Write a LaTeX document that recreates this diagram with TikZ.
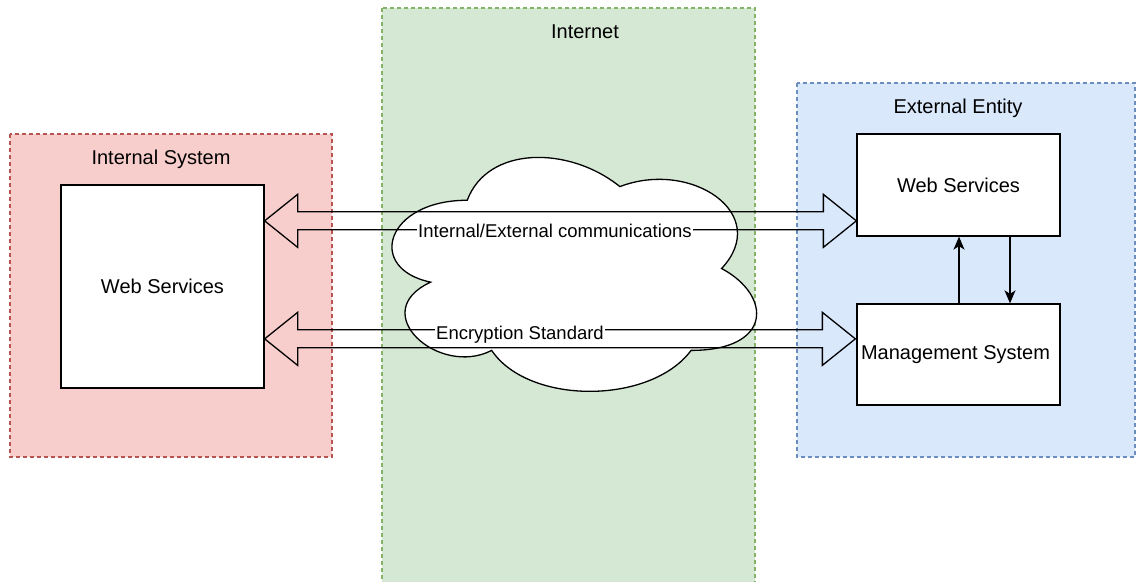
\documentclass[tikz,border=0pt]{standalone}
\usepackage{fontspec}
\setmainfont{Liberation Sans}
\usetikzlibrary{calc,arrows.meta}
\definecolor{redfill}{HTML}{F8CECC}
\definecolor{redline}{HTML}{B85450}
\definecolor{greenfill}{HTML}{D5E8D4}
\definecolor{greenline}{HTML}{82B366}
\definecolor{bluefill}{HTML}{DAE8FC}
\definecolor{blueline}{HTML}{6C8EBF}
\tikzset{
  lbl/.style={font=\fontsize{20bp}{24bp}\selectfont, inner sep=0pt},
  elbl/.style={font=\fontsize{18.5bp}{22bp}\selectfont, fill=white, inner sep=1bp},
  region/.style={line width=1.2bp, dash pattern=on 4bp off 3bp},
  box/.style={draw=black, fill=white, line width=1.3bp, inner sep=0pt,
    font=\fontsize{20bp}{24bp}\selectfont},
  flex/.style={draw=black, line width=1.3bp, line join=miter},
  sarrow/.style={draw=black, line width=1.3bp, -{Stealth[length=13bp,width=11bp,inset=3.5bp]}}
}
\newcommand\flexarrow[2]{%
  \draw[flex] (#1) -- ($(#1)+(33,-26.5)$) -- ($(#1)+(33,-9)$) -- ($(#2)+(-33,-9)$)
    -- ($(#2)+(-33,-26.5)$) -- (#2) -- ($(#2)+(-33,26.5)$) -- ($(#2)+(-33,9)$)
    -- ($(#1)+(33,9)$) -- ($(#1)+(33,26.5)$) -- cycle;}
\begin{document}
\begin{tikzpicture}[x=1bp,y=-1bp]
\useasboundingbox (0,0) rectangle (1139,582);
\clip (0,0) rectangle (1139,582);
\fill[white] (0,0) rectangle (1139,582);
% regions
\draw[region, draw=redline, fill=redfill] (10,134) rectangle (332,457);
\draw[region, draw=greenline, fill=greenfill] (382,8) rectangle (755,600);
\draw[region, draw=blueline, fill=bluefill] (797,83) rectangle (1135,457);
\node[lbl] (lint) at (161,159.5) {Internal System};
\node[lbl] (linet) at (585,32) {Internet};
\node[lbl] (lext) at (958,108) {External Entity};
% cloud
\draw[fill=white, line width=1.3bp] (467.25,200.25) .. controls (385.85,200.25) and (365.5,268.5) .. (430.62,282.15)
 .. controls (365.5,312.18) and (438.76,377.7) .. (491.67,350.4)
 .. controls (528.3,405) and (650.4,405) .. (691.1,350.4)
 .. controls (772.5,350.4) and (772.5,295.8) .. (721.6,268.5)
 .. controls (772.5,213.9) and (691.1,159.3) .. (619.9,186.6)
 .. controls (569,145.65) and (487.6,145.65) .. (467.25,200.25) -- cycle;
% boxes
\node[box, minimum width=203bp, minimum height=203bp] (lws) at (162.5,286.5) {Web Services};
\node[box, minimum width=203bp, minimum height=102bp] (rws) at (958.5,185) {Web Services};
\node[box, minimum width=203bp, minimum height=101bp] (mgmt) at (958.5,354.5) {\hspace*{-6bp}Management System};
% flex arrows
\coordinate (t1l) at ($(lws.north east)+(0,36.5)$);
\coordinate (t1r) at ($(rws.north west)+(0,87.5)$);
\coordinate (t2l) at ($(lws.north east)+(0,154.5)$);
\coordinate (t2r) at ($(mgmt.north west)+(-1,35.5)$);
\flexarrow{t1l}{t1r}
\flexarrow{t2l}{t2r}
\node[elbl] (e1) at (555,230.5) {Internal/External communications};
\node[elbl] (e2) at (520,334.5) {Encryption Standard};
% small arrows
\draw[sarrow] ($(mgmt.north)+(0.5,0)$) -- ($(rws.south)+(0.5,0)$);
\draw[sarrow] ($(rws.south)+(51.5,0)$) -- ($(mgmt.north)+(51.5,0)$);
\end{tikzpicture}
\end{document}
